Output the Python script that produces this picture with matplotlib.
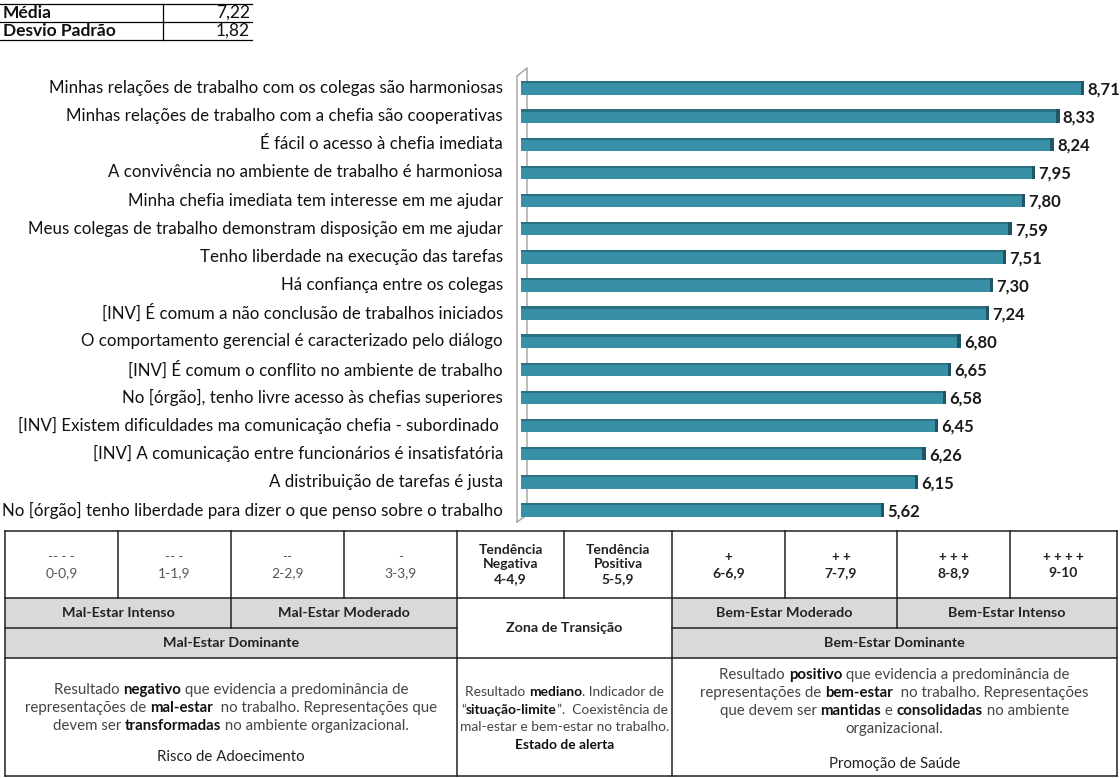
import matplotlib
matplotlib.use("Agg")
import matplotlib.pyplot as plt
from matplotlib.patches import Rectangle
import numpy as np

plt.rcParams['font.family'] = ['Lato', 'DejaVu Sans']

# data
items = [
    "Minhas relações de trabalho com os colegas são harmoniosas",
    "Minhas relações de trabalho com a chefia são cooperativas",
    "É fácil o acesso à chefia imediata",
    "A convivência no ambiente de trabalho é harmoniosa",
    "Minha chefia imediata tem interesse em me ajudar",
    "Meus colegas de trabalho demonstram disposição em me ajudar",
    "Tenho liberdade na execução das tarefas",
    "Há confiança entre os colegas",
    "[INV] É comum a não conclusão de trabalhos iniciados",
    "O comportamento gerencial é caracterizado pelo diálogo",
    "[INV] É comum o conflito no ambiente de trabalho",
    "No [órgão], tenho livre acesso às chefias superiores",
    "[INV] Existem dificuldades ma comunicação chefia - subordinado ",
    "[INV] A comunicação entre funcionários é insatisfatória",
    "A distribuição de tarefas é justa",
    "No [órgão] tenho liberdade para dizer o que penso sobre o trabalho",
]
scores = [8.71, 8.33, 8.24, 7.95, 7.80, 7.59, 7.51, 7.30, 7.24, 6.80, 6.65, 6.58, 6.45, 6.26, 6.15, 5.62]
stats_names = ["Média", "Desvio Padrão"]
stats_values = ["7,22", "1,82"]

scale_signs = ["-- - -", "-- -", "--", "-", None, None, "+", "+ +", "+ + +", "+ + + +"]
scale_ranges = ["0-0,9", "1-1,9", "2-2,9", "3-3,9", "Tendência\nNegativa\n4-4,9",
                "Tendência\nPositiva\n5-5,9", "6-6,9", "7-7,9", "8-8,9", "9-10"]
levels = ["Mal-Estar Intenso", "Mal-Estar Moderado", "Zona de Transição",
          "Bem-Estar Moderado", "Bem-Estar Intenso"]
dominants = ["Mal-Estar Dominante", "Bem-Estar Dominante"]

W, H = 1120, 778
fig = plt.figure(figsize=(W / 100, H / 100), dpi=100)
bg = fig.add_axes([0, 0, 1, 1])
bg.set_xlim(0, W)
bg.set_ylim(H, 0)
bg.axis('off')

# --- top stats table
for yy in [4, 22, 40]:
    bg.plot([0, 252], [yy, yy], color='black', lw=0.9)
bg.plot([163, 163], [4, 40], color='black', lw=0.9)
for i, (n, v) in enumerate(zip(stats_names, stats_values)):
    yc = 13 + i * 18
    bg.text(3, yc, n, fontsize=12.5, fontweight='bold', va='center', color='#111111')
    bg.text(250, yc, v, fontsize=12.5, va='center', ha='right', color='#111111')

# --- bar chart
x0, x1 = 518, W
ytop, ybot = 70, 525
ax = fig.add_axes([x0 / W, 1 - ybot / H, (x1 - x0) / W, (ybot - ytop) / H])
ypos = np.arange(len(scores))
step = (510 - 88) / 15
ax.set_xlim(0, (x1 - x0) / 64.7)
ax.set_ylim(15 + (ybot - 510) / step, -(88 - ytop) / step)
ax.axis('off')
bh = 0.48
ax.barh(ypos, scores, height=bh, color='#3790a6', left=0.04)
ax.barh(ypos - bh / 2 + 0.04, scores, height=0.08, color='#2b6f82', left=0.04)
ax.barh(ypos, [0.05] * len(scores), left=np.array(scores) - 0.01, height=bh,
        color='#1f5566')
for yy, v in zip(ypos, scores):
    ax.text(v + 0.09, yy + 0.05, f"{v:.2f}".replace('.', ','), fontsize=12,
            fontweight='bold', va='center', color='#1a1a1a')

# labels
for yy, lab in zip(ypos, items):
    ypx = 88 + yy * step
    bg.text(503, ypx, lab, fontsize=12.2, ha='right', va='center', color='#111111')

# 3d wall
wc = '#a0a0a0'
bg.plot([517, 517, 527, 527], [522, 76, 68, 515], color=wc, lw=1)
bg.plot([517, 527], [522, 515], color=wc, lw=1)

# --- bottom table
cols = [5, 118, 231, 344, 457, 564, 672, 785, 897, 1010, 1117]
rows = [531, 598, 628, 658, 776]
gray = '#d9d9d9'
for a, b in [(0, 4), (6, 10)]:
    bg.add_patch(Rectangle((cols[a], rows[1]), cols[b] - cols[a], rows[3] - rows[1],
                           facecolor=gray, edgecolor='none'))
lc = '#222222'
lw = 1.1
for r in [rows[0], rows[1], rows[4]]:
    bg.plot([cols[0], cols[-1]], [r, r], color=lc, lw=lw)
for r in [rows[2], rows[3]]:
    bg.plot([cols[0], cols[4]], [r, r], color=lc, lw=lw)
    bg.plot([cols[6], cols[-1]], [r, r], color=lc, lw=lw)
bg.plot([cols[4], cols[6]], [rows[3], rows[3]], color=lc, lw=lw)
for c in [cols[0], cols[4], cols[6], cols[-1]]:
    bg.plot([c, c], [rows[0], rows[4]], color=lc, lw=lw)
for c in [cols[1], cols[3], cols[5], cols[7], cols[9]]:
    bg.plot([c, c], [rows[0], rows[1]], color=lc, lw=lw)
for c in [cols[2], cols[8]]:
    bg.plot([c, c], [rows[0], rows[2]], color=lc, lw=lw)

# row 1
for i in range(10):
    xc = (cols[i] + cols[i + 1]) / 2
    if scale_signs[i] is None:
        bg.text(xc, (rows[0] + rows[1]) / 2, scale_ranges[i], fontsize=10,
                fontweight='bold', ha='center', va='center', color='#222222',
                linespacing=1.3)
    else:
        pos = i >= 6
        col = '#222222' if pos else '#555555'
        fw = 'bold' if pos else 'normal'
        bg.text(xc, 557, scale_signs[i], fontsize=9.5, ha='center', va='center',
                color=col, fontweight=fw)
        bg.text(xc, 573, scale_ranges[i], fontsize=10, ha='center', va='center',
                color=col, fontweight=fw)

# rows 2-3
lvl_spans = [(0, 2), (2, 4), (4, 6), (6, 8), (8, 10)]
for (a, b), txt in zip(lvl_spans, levels):
    xc = (cols[a] + cols[b]) / 2
    yc = (rows[1] + rows[2]) / 2 if txt != "Zona de Transição" else (rows[1] + rows[3]) / 2
    bg.text(xc, yc, txt, fontsize=10.3, fontweight='bold', ha='center', va='center',
            color='#222222')
for (a, b), txt in zip([(0, 4), (6, 10)], dominants):
    bg.text((cols[a] + cols[b]) / 2, (rows[2] + rows[3]) / 2, txt, fontsize=10.3,
            fontweight='bold', ha='center', va='center', color='#222222')

# descriptions with mixed bold
fig.canvas.draw()
renderer = fig.canvas.get_renderer()


def seg_width(s, bold, size):
    t1 = bg.text(0, 0, "|" + s + "|", fontsize=size, fontweight='bold' if bold else 'normal')
    t2 = bg.text(0, 0, "||", fontsize=size, fontweight='bold' if bold else 'normal')
    w = t1.get_window_extent(renderer).width - t2.get_window_extent(renderer).width
    t1.remove()
    t2.remove()
    return w


def rich_line(xc, y, parts, size=10.8):
    widths = [seg_width(s, b, size) for s, b in parts]
    x = xc - sum(widths) / 2
    for (s, b), w in zip(parts, widths):
        bg.text(x, y, s, fontsize=size, fontweight='bold' if b else 'normal',
                ha='left', va='center', color='#111111' if b else '#444444')
        x += w


left_desc = [
    [("Resultado ", 0), ("negativo", 1), (" que evidencia a predominância de", 0)],
    [("representações de ", 0), ("mal-estar", 1), ("  no trabalho. Representações que", 0)],
    [("devem ser ", 0), ("transformadas", 1), (" no ambiente organizacional.", 0)],
]
mid_desc = [
    [("Resultado ", 0), ("mediano", 1), (". Indicador de", 0)],
    [("“", 0), ("situação-limite", 1), ("”.  Coexistência de", 0)],
    [("mal-estar e bem-estar no trabalho.", 0)],
    [("Estado de alerta", 1)],
]
right_desc = [
    [("Resultado ", 0), ("positivo", 1), (" que evidencia a predominância de", 0)],
    [("representações de ", 0), ("bem-estar", 1), ("  no trabalho. Representações", 0)],
    [("que devem ser ", 0), ("mantidas", 1), (" e ", 0), ("consolidadas", 1), (" no ambiente", 0)],
    [("organizacional.", 0)],
]
xl = (cols[0] + cols[4]) / 2
xm = (cols[4] + cols[6]) / 2
xr = (cols[6] + cols[-1]) / 2
for k, parts in enumerate(left_desc):
    rich_line(xl, 690 + k * 18, parts)
bg.text(xl, 757, "Risco de Adoecimento", fontsize=10.8, ha='center', va='center',
        color='#222222')
for k, parts in enumerate(mid_desc):
    rich_line(xm, 692 + k * 17.7, parts, size=9.9)
for k, parts in enumerate(right_desc):
    rich_line(xr, 675 + k * 18, parts)
bg.text(xr, 764, "Promoção de Saúde", fontsize=10.8, ha='center', va='center',
        color='#222222')

fig.savefig("out.png", dpi=100)
